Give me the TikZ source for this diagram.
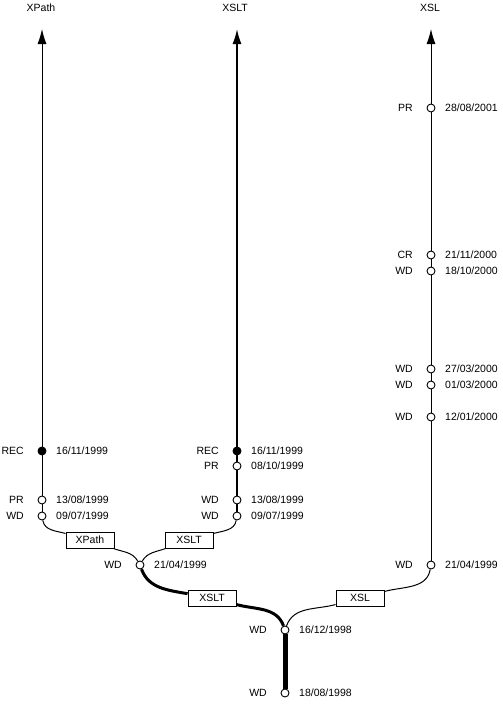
\documentclass[tikz,border=0pt]{standalone}
\usepackage{fontspec}
\setmainfont{Liberation Sans}
\usetikzlibrary{arrows.meta}
\newcommand\mkev[6]{%
  \node[#6] (#1) at (#2,#3) {};
  \node[anchor=east,inner sep=0pt] (#1l) at ([xshift=-18pt]#1) {#4};
  \node[anchor=west,inner sep=0pt] (#1d) at ([xshift=14pt]#1) {#5};}
\begin{document}
\begin{tikzpicture}[x=1pt,y=-1pt,font=\fontsize{10.5}{12}\selectfont,
  ev/.style={circle,draw,fill=white,inner sep=0pt,minimum size=8pt,line width=0.9pt},
  rec/.style={ev,fill=black},
  box/.style={draw,fill=white,line width=0.9pt,minimum width=48pt,minimum height=16pt,inner sep=0pt},
  thinl/.style={line width=1pt},
  medl/.style={line width=1.6pt},
  thickl/.style={line width=3pt},
  heavyl/.style={line width=5pt},
  tip/.style={-{Latex[length=15pt,width=9pt]}}]
\useasboundingbox (0,0) rectangle (503,704);
% titles
\node (tXPath) at (41,8) {XPath};
\node (tXSLT) at (235,8) {XSLT};
\node (tXSL) at (430,8) {XSL};
\coordinate (aXPath) at (42,29);
\coordinate (aXSLT) at (237,29);
\coordinate (aXSL) at (431,29);
% XPath
\mkev{pa}{42}{451}{REC}{16/11/1999}{rec}
\mkev{pb}{42}{500}{PR}{13/08/1999}{ev}
\mkev{pc}{42}{516}{WD}{09/07/1999}{ev}
% XSLT
\mkev{ta}{237}{451}{REC}{16/11/1999}{rec}
\mkev{tb}{237}{466}{PR}{08/10/1999}{ev}
\mkev{tc}{237}{500}{WD}{13/08/1999}{ev}
\mkev{td}{237}{516}{WD}{09/07/1999}{ev}
% XSL
\mkev{sa}{431}{108}{PR}{28/08/2001}{ev}
\mkev{sb}{431}{255}{CR}{21/11/2000}{ev}
\mkev{sc}{431}{271}{WD}{18/10/2000}{ev}
\mkev{sd}{431}{369}{WD}{27/03/2000}{ev}
\mkev{se}{431}{385}{WD}{01/03/2000}{ev}
\mkev{sf}{431}{417}{WD}{12/01/2000}{ev}
\mkev{sg}{431}{565}{WD}{21/04/1999}{ev}
% merges
\mkev{m}{140}{565}{WD}{21/04/1999}{ev}
\mkev{r}{285}{630}{WD}{16/12/1998}{ev}
\mkev{z}{285}{693}{WD}{18/08/1998}{ev}
% boxes
\node[box] (bXPath) at (90,540) {XPath};
\node[box] (bXSLT1) at (189,540) {XSLT};
\node[box] (bXSLT2) at (212,598) {XSLT};
\node[box] (bXSL) at (360,598) {XSL};
% vertical lines
\draw[thinl] (pc) -- (pb) -- (pa);
\draw[thinl,tip] (pa) -- (aXPath);
\draw[medl] (td) -- (tc) -- (tb) -- (ta);
\draw[medl,tip] (ta) -- (aXSLT);
\draw[thinl] (sg) -- (sf) -- (se) -- (sd) -- (sc) -- (sb) -- (sa);
\draw[thinl,tip] (sa) -- (aXSL);
\draw[heavyl] (z) -- (r);
% branches
\draw[thinl] (pc) to[out=280,in=165] (bXPath);
\draw[thinl] (bXPath) to[out=340,in=120] (m);
\draw[thinl] (td) to[out=260,in=15] (bXSLT1);
\draw[thinl] (bXSLT1) to[out=200,in=60] (m);
\draw[thickl] (m) to[out=290,in=170] (bXSLT2);
\draw[thickl] (bXSLT2) to[out=345,in=110] (r);
\draw[thinl] (sg) to[out=260,in=15] (bXSL);
\draw[thinl] (bXSL) to[out=195,in=70] (r);
\end{tikzpicture}
\end{document}
